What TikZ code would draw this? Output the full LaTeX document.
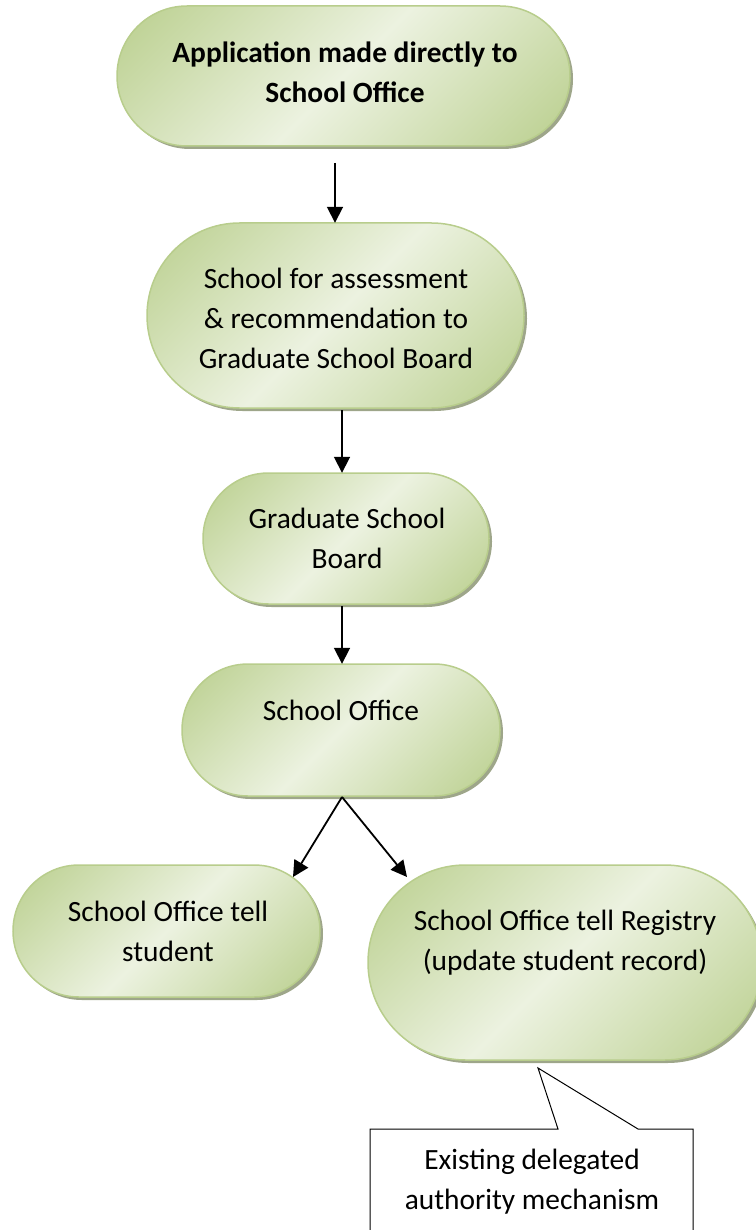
\documentclass[tikz,border=0pt]{standalone}
\usepackage{fontspec}
\setmainfont{Carlito}
\usetikzlibrary{arrows.meta,calc}
\definecolor{gdark}{RGB}{186,207,142}
\definecolor{glight}{RGB}{236,242,224}
\definecolor{gline}{RGB}{184,205,140}
\definecolor{gshadow}{RGB}{158,166,138}
\pgfdeclareverticalshading{olivefill}{100bp}{color(0bp)=(gdark); color(15bp)=(gdark); color(50bp)=(glight); color(85bp)=(gdark); color(100bp)=(gdark)}
\tikzset{
  txt/.style={font=\fontsize{29.4}{40}\selectfont, align=center, anchor=base, inner sep=0pt},
  arr/.style={line width=1.8pt, -{Triangle[length=16pt,width=16pt]}},
  callout/.style={draw=black, line width=1pt, fill=white, line join=miter},
}
% #1 left, #2 top, #3 right, #4 bottom (pixels, y downwards), #5 node name
\newcommand\stad[5]{%
  \pgfmathsetmacro\ry{(#4-#2)/2}%
  \pgfmathsetmacro\rx{\ry}%
  \pgfmathsetmacro\bw{#3-#1}%
  \pgfmathsetmacro\bh{#4-#2}%
  \fill[gshadow] (#1+\rx+3,#2+3) -- (#3-\rx+3,#2+3) arc[start angle=-90,end angle=90,x radius=\rx,y radius=\ry] -- (#1+\rx+3,#4+3) arc[start angle=90,end angle=270,x radius=\rx,y radius=\ry] -- cycle;
  \shadedraw[draw=gline, line width=1.5pt, shading=olivefill, shading angle=45]
    (#1+\rx,#2) -- (#3-\rx,#2) arc[start angle=-90,end angle=90,x radius=\rx,y radius=\ry] -- (#1+\rx,#4) arc[start angle=90,end angle=270,x radius=\rx,y radius=\ry] -- cycle;
  \node[inner sep=0pt, minimum width=\bw pt, minimum height=\bh pt] (#5) at ({(#1+#3)/2},{(#2+#4)/2}) {};
}
\begin{document}
\begin{tikzpicture}[x=1pt,y=-1pt]
\useasboundingbox (0,0) rectangle (755,1230);

\stad{117}{6}{570}{146}{b1}
\stad{147}{223}{524}{408}{b2}
\stad{203}{473}{489}{604}{b3}
\stad{182}{664}{500}{796}{b4}
\stad{13}{865}{320}{997}{b5}
\stad{368}{865}{762}{1060}{b6}

% anchor=base puts the last line's baseline at the given point
\node[txt, font=\fontsize{29.4}{40}\selectfont\bfseries] (t1) at (345,103) {Application made directly to\\School Office};
\node[txt] (t2) at (336,368) {School for assessment\\\& recommendation to\\Graduate School Board};
\node[txt] (t3) at (347,568) {Graduate School\\Board};
\node[txt] (t4) at (341,720) {School Office};
\node[txt] (t5) at (168,961) {School Office tell\\student};
\node[txt] (t6) at (565,970) {School Office tell Registry\\(update student record)};

% connectors
\coordinate (a1s) at (335,163);
\draw[arr] (a1s) -- (a1s |- b2.north);
\coordinate (a2s) at (342,410);
\draw[arr] (a2s) -- (a2s |- b3.north);
\coordinate (a3s) at (342,606);
\draw[arr] (a3s) -- (a3s |- b4.north);
\coordinate (a4s) at (342,797);
\coordinate (tip5) at (293,877);
\coordinate (tip6) at (407,877);
\draw[arr] (a4s) -- (tip5);
\draw[arr] (a4s) -- (tip6);

% callout
\coordinate (cotip) at (538,1068);
\draw[callout] (370,1240) -- (370,1129) -- (558,1129) -- (cotip) -- (638,1129) -- (693,1129) -- (693,1240);
\node[txt] (co) at (532,1209) {Existing delegated\\authority mechanism};
\end{tikzpicture}
\end{document}
